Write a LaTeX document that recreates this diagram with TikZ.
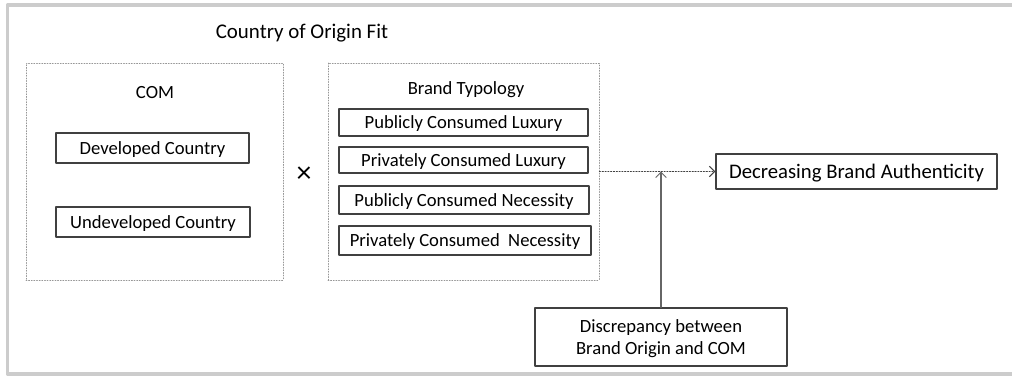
\documentclass[tikz,border=0pt]{standalone}
\usepackage{fontspec}
\setmainfont{Carlito}
\usepackage{tikz}
\usetikzlibrary{arrows.meta}

\definecolor{framegray}{RGB}{204,204,204}
\definecolor{boxline}{RGB}{64,64,64}
\definecolor{dotgray}{RGB}{150,150,150}

\tikzset{
  box/.style={draw=boxline,line width=.8pt,inner sep=0pt,text depth=0pt,font=\fontsize{10.6}{12.5}\selectfont},
  group/.style={draw=dotgray,densely dotted,line width=.5pt,inner sep=0pt},
  label/.style={font=\fontsize{10.6}{12.5}\selectfont}
}

\begin{document}
\begin{tikzpicture}[line cap=round,line join=round,x=0.02cm,y=-0.02cm,>={Straight Barb[length=3pt,width=6pt]}]
\useasboundingbox (0,0) rectangle (1012,376);
% outer frame, open on the right
\draw[color=framegray,line width=2pt,line cap=butt] (1012,5) -- (7.5,5) -- (7.5,374) -- (1012,374);
\node[label,font=\fontsize{11.9}{14}\selectfont] (title) at (302,33) {Country of Origin Fit};
% country of manufacture
\node[group,minimum width=5.14cm,minimum height=4.34cm] (comgroup) at (154.5,171.5) {};
\node[label] (com) at (155,93) {COM};
\node[box,minimum width=3.86cm,minimum height=0.6cm] (dev) at (152.5,148) {Developed Country};
\node[box,minimum width=3.88cm,minimum height=0.6cm] (undev) at (153,222) {Undeveloped Country};
\node[font=\fontsize{17}{17}\selectfont] (times) at (304,175) {×};
% brand typology
\node[group,minimum width=5.42cm,minimum height=4.34cm] (typgroup) at (463.5,171.5) {};
\node[label] (typ) at (466,90) {Brand Typology};
\node[box,minimum width=4.98cm,minimum height=0.54cm] (pcl) at (463.5,122.5) {Publicly Consumed Luxury};
\node[box,minimum width=4.98cm,minimum height=0.52cm] (prcl) at (463.5,160) {Privately Consumed Luxury};
\node[box,minimum width=5.0cm,minimum height=0.56cm] (pcn) at (464,200) {Publicly Consumed Necessity};
\node[box,minimum width=5.04cm,minimum height=0.58cm] (prcn) at (465,240.5) {Privately Consumed\ \ Necessity};
% outcome and moderator
\node[box,minimum width=5.62cm,minimum height=0.7cm,font=\fontsize{11.8}{14}\selectfont] (dec) at (856.5,171.5) {Decreasing Brand Authenticity};
\node[box,minimum width=5.04cm,minimum height=1.16cm,align=center] (disc) at (661,337) {Discrepancy between\\Brand Origin and COM};
\coordinate (meet) at (disc.north |- dec.west);
\draw[->,color=boxline,densely dotted,line width=.6pt] (typgroup.east) -- (dec.west);
\draw[->,color=boxline!80,line width=.6pt] (disc.north) -- (meet);
\end{tikzpicture}
\end{document}
